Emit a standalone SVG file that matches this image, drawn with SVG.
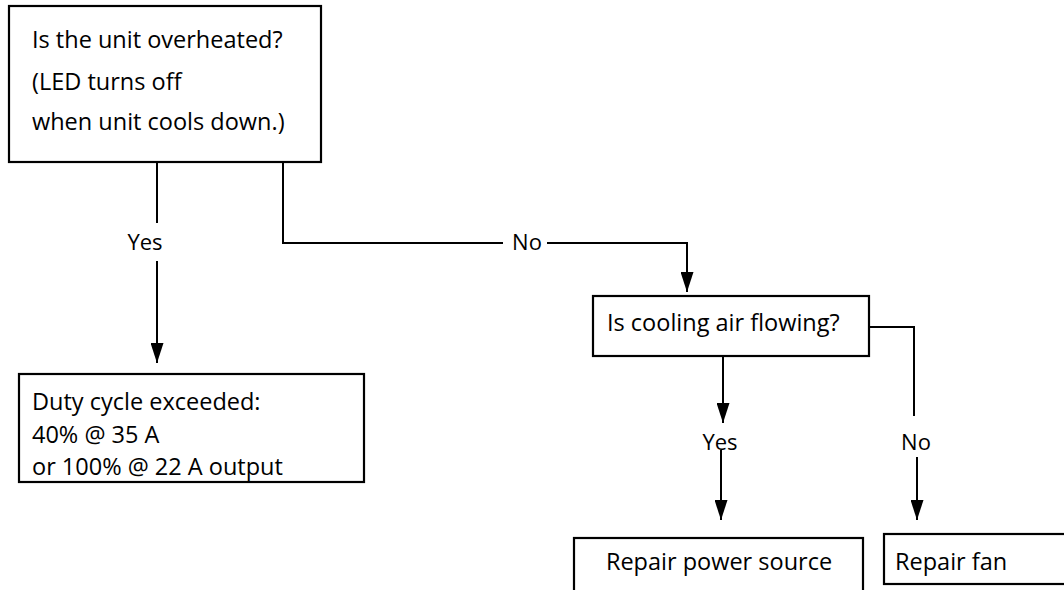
<svg xmlns="http://www.w3.org/2000/svg" width="1064" height="590" viewBox="0 0 1064 590">
<defs>
<style>
.box{fill:#fff;stroke:#000;stroke-width:2.2}
.ln{fill:none;stroke:#000;stroke-width:2}
.t{font-family:"Open Sans","Noto Sans","Liberation Sans",sans-serif;font-size:23.5px;fill:#000}
.l{font-family:"Open Sans","Noto Sans","Liberation Sans",sans-serif;font-size:22px;fill:#000;text-anchor:middle}
.m{text-anchor:middle}
</style>
<marker id="ah" viewBox="0 0 20 13" refX="20" refY="6.5" markerWidth="20" markerHeight="13" markerUnits="userSpaceOnUse" orient="auto">
<path d="M0,0 L20,6.5 L0,13 Z" fill="#000"/>
</marker>
</defs>
<rect width="1064" height="590" fill="#fff"/>
<g id="connectors">
<path class="ln" d="M157,162 V223"/>
<path class="ln" d="M157,261 V363" marker-end="url(#ah)"/>
<path class="ln" d="M283,162 V243 H503"/>
<path class="ln" d="M547,243 H687 V292" marker-end="url(#ah)"/>
<path class="ln" d="M723,352 V423" marker-end="url(#ah)"/>
<path class="ln" d="M721,450 V520" marker-end="url(#ah)"/>
<path class="ln" d="M869,327 H914 V416"/>
<path class="ln" d="M917,457 V520" marker-end="url(#ah)"/>
<text class="l" x="145" y="250">Yes</text>
<text class="l" x="527" y="250">No</text>
<text class="l" x="720" y="450">Yes</text>
<text class="l" x="916" y="450">No</text>
</g>
<g id="n1">
<rect class="box" x="9" y="6" width="312" height="156"/>
<text class="t" x="32" y="48">Is the unit overheated?</text>
<text class="t" x="32" y="90">(LED turns off</text>
<text class="t" x="32" y="130">when unit cools down.)</text>
</g>
<g id="n2">
<rect class="box" x="19" y="374" width="345" height="108"/>
<text class="t" x="32" y="410">Duty cycle exceeded:</text>
<text class="t" x="32" y="443">40% @ 35 A</text>
<text class="t" x="32" y="475">or 100% @ 22 A output</text>
</g>
<g id="n3">
<rect class="box" x="593" y="296" width="276" height="60"/>
<text class="t" x="607" y="331">Is cooling air flowing?</text>
</g>
<g id="n4">
<rect class="box" x="574" y="538" width="289" height="70"/>
<text class="t m" x="719" y="570">Repair power source</text>
</g>
<g id="n5">
<rect class="box" x="884" y="534" width="200" height="50"/>
<text class="t" x="895" y="570">Repair fan</text>
</g>
</svg>
